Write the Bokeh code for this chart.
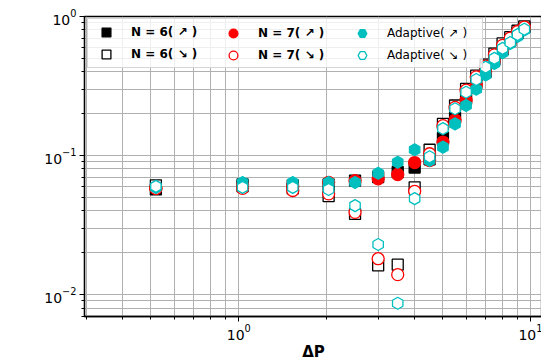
import math
from bokeh.plotting import figure
from bokeh.models import Range1d, FixedTicker, LogTickFormatter, Legend, LegendItem, Label
from bokeh.embed import file_html
from bokeh.resources import INLINE

# ---- data ----
dp = [0.52, 1.03, 1.53, 2.03, 2.5, 3.0, 3.5, 4.0, 4.5, 5.0, 5.5, 6.0, 6.5, 7.0, 7.5, 8.0, 8.5, 9.0, 9.5]
n6_up = [0.057, 0.062, 0.061, 0.062, 0.066, 0.070, 0.076, 0.082, 0.094, 0.134, 0.187, 0.256, 0.33, 0.40, 0.49, 0.58, 0.67, 0.76, 0.84]
n6_dn = [0.061, 0.060, 0.058, 0.051, 0.038, 0.0162, 0.0164, 0.059, 0.110, 0.169, 0.229, 0.302, 0.376, 0.45, 0.54, 0.64, 0.71, 0.79, 0.85]
n7_up = [0.058, 0.061, 0.060, 0.064, 0.066, 0.068, 0.073, 0.089, 0.092, 0.125, 0.180, 0.250, 0.32, 0.40, 0.48, 0.57, 0.66, 0.75, 0.83]
n7_dn = [0.058, 0.058, 0.056, 0.053, 0.039, 0.0181, 0.0139, 0.0553, 0.103, 0.164, 0.222, 0.295, 0.368, 0.44, 0.53, 0.62, 0.70, 0.78, 0.84]
ad_up = [0.059, 0.064, 0.064, 0.064, 0.064, 0.0746, 0.0895, 0.110, 0.092, 0.115, 0.169, 0.229, 0.30, 0.38, 0.46, 0.55, 0.64, 0.72, 0.80]
ad_dn = [0.060, 0.059, 0.059, 0.057, 0.0436, 0.0229, 0.00865, 0.049, 0.098, 0.156, 0.217, 0.285, 0.352, 0.432, 0.50, 0.59, 0.65, 0.74, 0.81]

labels = ["N = 6( \u2197 )", "N = 6( \u2198 )", "N = 7( \u2197 )", "N = 7( \u2198 )", "Adaptive( \u2197 )", "Adaptive( \u2198 )"]
x_major = [0.1, 1, 10]
x_minor = [0.3, 0.4, 0.5, 0.6, 0.7, 0.8, 0.9, 2, 3, 4, 5, 6, 7, 8, 9, 20]
y_major = [0.01, 0.1, 1]
y_minor = [0.007, 0.008, 0.009, 0.02, 0.03, 0.04, 0.05, 0.06, 0.07, 0.08, 0.09,
           0.2, 0.3, 0.4, 0.5, 0.6, 0.7, 0.8, 0.9]

FONT = "DejaVu Sans"
CYAN = "#00bfbf"

p = figure(width=542, height=363, x_axis_type="log", y_axis_type="log",
           x_range=Range1d(0.2962, 10.96), y_range=Range1d(0.00695, 1.0),
           output_backend="svg", toolbar_location=None,
           min_border_left=84, min_border_right=0, min_border_top=16, min_border_bottom=47)
p.background_fill_color = "white"
p.border_fill_color = "white"
p.outline_line_color = "black"
p.outline_line_width = 1.3

xt = FixedTicker(ticks=x_major, minor_ticks=x_minor)
yt = FixedTicker(ticks=y_major, minor_ticks=y_minor)
p.xaxis.ticker = xt
p.yaxis.ticker = yt
p.xgrid.ticker = xt
p.ygrid.ticker = yt
p.xaxis.formatter = LogTickFormatter()
p.yaxis.formatter = LogTickFormatter()
for g in (p.xgrid, p.ygrid):
    g.grid_line_color = "#b0b0b0"
    g.grid_line_width = 1
    g.minor_grid_line_color = "#b0b0b0"
    g.minor_grid_line_width = 1
for ax in (p.xaxis, p.yaxis):
    ax.axis_line_color = "black"
    ax.axis_line_width = 1.3
    ax.major_tick_line_color = "black"
    ax.minor_tick_line_color = "black"
    ax.major_tick_out = 5
    ax.major_tick_in = 0
    ax.minor_tick_out = 3
    ax.minor_tick_in = 0
    ax.major_label_text_font = FONT
    ax.major_label_text_font_size = "14px"
    ax.major_label_text_color = "black"
    ax.major_label_standoff = 3
p.xaxis.major_label_standoff = 2
p.xaxis.axis_label = "\u0394P"
p.xaxis.axis_label_text_font = FONT
p.xaxis.axis_label_text_font_size = "15px"
p.xaxis.axis_label_text_font_style = "bold"
p.xaxis.axis_label_text_color = "black"
p.xaxis.axis_label_standoff = 0

r1 = p.scatter(dp, n6_up, marker="square", size=11, fill_color="black", line_color="black", line_width=1.3)
r2 = p.scatter(dp, n6_dn, marker="square", size=11, fill_color="white", line_color="black", line_width=1.3)
r3 = p.scatter(dp, n7_up, marker="circle", size=12, fill_color="red", line_color="red", line_width=1.3)
r4 = p.scatter(dp, n7_dn, marker="circle", size=12, fill_color="white", line_color="red", line_width=1.3)
r5 = p.scatter(dp, ad_up, marker="hex", size=12, angle=math.pi / 6, fill_color=CYAN, line_color=CYAN, line_width=1.3)
r6 = p.scatter(dp, ad_dn, marker="hex", size=12, angle=math.pi / 6, fill_color="white", line_color=CYAN, line_width=1.3)

def make_legend(items, loc, bold, bg, label_width=20):
    leg = Legend(items=items, location=loc, orientation="vertical",
                 glyph_width=32, glyph_height=22, label_height=22, spacing=0,
                 padding=2, margin=0, label_standoff=9, label_width=label_width,
                 label_text_font=FONT, label_text_font_size="12px",
                 label_text_font_style="bold" if bold else "normal",
                 label_text_color="black")
    if bg:
        leg.background_fill_color = "white"
        leg.background_fill_alpha = 0.8
        leg.border_line_color = "#cccccc"
        leg.border_line_alpha = 0.8
        leg.border_line_width = 1
    else:
        leg.background_fill_alpha = 0
        leg.border_line_alpha = 0
    return leg

leg1 = make_legend([LegendItem(label=labels[0], renderers=[r1]), LegendItem(label=labels[1], renderers=[r2])],
                   (3, 248), True, True, label_width=349)
leg2 = make_legend([LegendItem(label=labels[2], renderers=[r3]), LegendItem(label=labels[3], renderers=[r4])],
                   (131, 248), True, False)
leg3 = make_legend([LegendItem(label=labels[4], renderers=[r5]), LegendItem(label=labels[5], renderers=[r6])],
                   (260, 248), False, False)
for lg in (leg1, leg2, leg3):
    p.add_layout(lg, "center")

# y-axis label |U_cl| built from pieces, rotated
ylab_parts = [("|U", "15px", -59, 134), ("cl", "10px", -55, 151.7), ("|", "15px", -59, 161.1)]
for txt, fs, xx, yy in ylab_parts:
    p.add_layout(Label(x=xx, y=yy, x_units="screen", y_units="screen", text=txt, angle=math.pi / 2,
                       text_font=FONT, text_font_size=fs, text_font_style="bold", text_color="black",
                       text_align="left", text_baseline="middle"))

open("out.html", "w").write(file_html(p, INLINE))
